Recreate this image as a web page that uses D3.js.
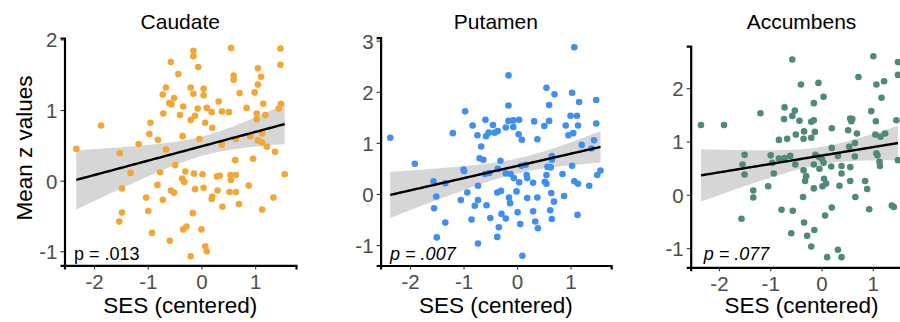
<!DOCTYPE html>
<html>
<head>
<meta charset="utf-8">
<script src="https://cdn.jsdelivr.net/npm/d3@7"></script>
<style>
  body { margin: 0; background: #fff; }
  svg { display: block; font-family: "Liberation Sans", Arial, Helvetica, sans-serif; }
</style>
</head>
<body>
<svg id="chart" width="900" height="322"></svg>
<script>
// ---- data ----
const regions = ["Caudate", "Putamen", "Accumbens"];
const pLabels = ["p = .013", "p = .007", "p = .077"];
const xTicks = [-2, -1, 0, 1];
const yTicks = [[-1, 0, 1, 2], [-1, 0, 1, 2, 3], [-1, 0, 1, 2]];
const xDomain = [-2.55, 1.76];
const yDomains = [[-1.2, 2.02], [-1.4, 3.06], [-1.36, 2.79]];

const caudateSES = [-2.33,-1.87,-1.52,-1.17,-0.97,-0.95,-0.81,-0.66,-0.71,-0.72,-0.66,-0.60,-0.56,-0.51,-0.57,-0.43,-0.40,-0.34,-0.35,-0.20,-0.15,-0.15,-0.15,-0.06,-0.20,-0.12,-0.07,-0.04,0.04,0.04,0.07,0.10,0.19,0.20,0.32,0.38,0.51,0.38,0.55,0.60,0.60,0.71,0.64,0.84,0.91,0.99,1.05,1.11,1.05,1.03,1.03,1.15,1.19,1.13,1.05,1.13,1.22,1.37,1.47,1.47,1.48,1.44,
  0.63,0.96,1.55,-0.49,-1.32,-0.77,-0.30,-0.14,0.02,-0.36,-0.32,0.29,0.34,0.54,0.64,0.55,-0.82,-1.48,-0.57,-0.51,-0.12,0.04,0.30,0.20,0.19,0.52,0.64,0.88,0.70,0.39,1.34,1.13,-1.03,-0.72,-0.99,-1.48,-1.53,-0.16,-0.92,-0.59,-0.34,-0.28,0.00,0.07,0.10,-0.20];
const caudateZ = [0.45,0.78,0.39,0.52,0.66,0.82,0.58,0.44,0.95,1.22,1.32,1.10,1.08,1.17,1.68,1.51,0.93,1.05,0.63,1.32,1.23,1.84,1.76,1.61,0.86,0.92,1.02,0.59,1.30,1.21,0.82,1.03,0.97,0.75,1.12,0.98,0.97,0.51,1.88,1.49,1.43,1.24,0.59,1.03,0.63,1.25,1.36,1.47,1.59,0.95,0.87,1.09,0.93,0.67,0.57,0.54,0.48,0.41,1.87,1.64,1.09,1.02,
  0.29,0.31,0.09,0.22,0.11,0.12,0.13,0.10,0.09,0.03,-0.02,0.06,0.07,0.08,0.08,0.01,-0.06,-0.11,-0.14,-0.17,-0.12,-0.10,-0.14,-0.23,-0.26,-0.16,-0.16,-0.07,-0.33,-0.37,-0.24,-0.41,-0.24,-0.27,-0.43,-0.45,-0.58,-0.46,-0.74,-0.85,-0.69,-0.65,-0.69,-0.93,-1.00,-1.07];

const putamenSES = [-2.37,-1.20,-0.97,-0.83,-0.74,-0.67,-0.59,-0.58,-0.53,-0.45,-0.42,-0.36,-0.21,-0.16,-0.07,-0.07,0.04,-0.16,-0.16,0.03,0.09,0.32,0.38,0.51,0.60,0.60,0.55,0.70,0.91,1.00,1.12,1.03,1.16,1.07,1.14,0.96,1.05,1.48,1.48,1.44,1.21,1.39,
  -1.91,-1.56,-1.34,-1.51,-1.55,-1.34,-1.50,-1.00,-0.99,-0.93,-1.05,-0.73,-0.70,-0.63,-0.79,-0.73,-0.85,-0.73,-0.60,-0.52,-0.57,-0.50,-0.36,-0.31,-0.37,-0.30,-0.29,-0.21,-0.34,-0.37,-0.21,-0.12,-0.15,-0.13,-0.06,-0.01,0.01,0.06,0.10,0.04,0.08,0.16,0.18,0.19,0.19,0.30,0.30,0.34,0.39,0.38,0.52,0.55,0.55,0.57,0.63,0.65,0.65,0.64,0.69,0.62,0.65,0.85,0.88,1.03,1.07,1.14,1.13,1.35,1.50,1.56];
const putamenZ = [1.10,1.19,1.62,1.34,1.15,0.93,1.45,1.13,1.20,1.35,1.20,1.23,1.30,1.43,1.44,1.31,1.45,1.73,2.32,1.17,1.06,1.42,1.07,1.33,1.43,1.74,2.08,1.95,1.34,1.53,1.53,1.98,1.80,2.87,1.34,1.15,1.19,1.84,1.38,1.05,0.96,0.89,
  0.59,0.25,0.21,-0.05,-0.28,-0.56,-0.85,0.48,0.45,0.03,-0.12,0.16,0.70,0.67,-0.23,-0.12,-0.50,-0.97,0.39,0.41,-0.22,-0.47,0.49,0.65,0.03,0.06,-0.39,-0.48,-0.65,-0.84,0.40,0.39,-0.07,-0.18,0.31,0.05,-0.36,-0.59,-1.21,0.23,0.55,0.57,0.37,0.31,-0.08,0.22,-0.34,-0.54,-0.67,-0.07,0.24,0.20,0.37,0.53,0.52,0.74,0.67,0.02,-0.15,-0.32,-0.49,0.39,-0.04,0.55,0.25,0.20,-0.41,0.16,0.37,0.46];

const accumbensSES = [-2.35,-1.90,-1.19,-0.57,-0.72,-0.52,-0.57,-0.73,-0.43,-0.83,-0.67,-0.50,-0.34,-0.35,-0.20,-0.13,-0.20,-0.15,-0.15,0.04,-0.40,-0.06,0.20,0.52,0.56,0.60,0.58,0.69,0.72,1.01,1.07,1.22,1.17,0.97,1.06,1.05,1.15,1.24,1.46,1.49,1.49,0.20,0.54,0.65,1.07,
  -1.50,-1.54,-1.50,-0.99,-0.96,-0.93,-0.83,-0.72,-0.61,-0.51,-0.35,-0.30,-0.32,-0.15,-0.12,-0.05,0.01,0.04,-0.04,0.05,0.09,0.02,-0.15,-0.36,0.19,0.32,0.39,0.39,0.35,0.56,0.56,0.65,0.66,0.85,0.89,0.93,1.09,1.13,1.14,1.37,1.41,1.49,-1.33,-1.33,-1.04,-0.78,-0.56,-1.56,0.07,0.20,-0.34,-0.59,-0.28,-0.14,-0.20,0.11,0.32,0.39];
const accumbensZ = [1.31,1.31,1.53,2.54,1.64,1.58,1.48,1.42,1.39,1.03,1.05,1.13,1.19,1.05,1.07,1.18,1.37,1.40,1.72,1.84,2.07,2.10,1.25,1.21,1.43,1.42,1.38,1.15,2.21,2.60,2.07,2.13,1.82,1.57,1.38,1.13,1.09,1.15,1.40,2.49,2.25,0.88,0.90,0.97,0.78,
  0.75,0.57,0.38,0.74,0.60,0.40,0.68,0.69,0.73,0.57,0.46,0.35,0.26,0.57,0.75,0.71,0.67,0.60,0.49,0.30,0.21,0.16,0.12,-0.04,0.53,0.73,0.54,0.40,0.17,0.52,0.26,0.72,-0.04,0.26,0.11,-0.27,0.74,0.62,0.54,-0.20,-0.23,0.65,0.08,-0.05,0.16,-0.28,-0.30,-0.45,-0.39,-0.24,-0.52,-0.72,-0.77,-0.66,-0.97,-1.17,-1.03,-1.17];

// ---- layout ----
const colors = ["#F4A534", "#3F8EF3", "#4E8A74"];
const frames = [
  { left: 64.5, right: 296,   top: 38,   bottom: 265.4 },
  { left: 380.6, right: 611.2, top: 37.6, bottom: 265.5 },
  { left: 690.7, right: 911.8, top: 46.1, bottom: 267.3 }
];
const seriesX = [caudateSES, putamenSES, accumbensSES];
const seriesY = [caudateZ, putamenZ, accumbensZ];

const svg = d3.select("#chart");
svg.append("rect").attr("width", 900).attr("height", 322).attr("fill", "#fff");

// simple lm fit with 95% CI (what geom_smooth(method = "lm") draws)
function lmFit(xs, ys) {
  const n = xs.length;
  const mx = d3.mean(xs), my = d3.mean(ys);
  let sxx = 0, sxy = 0;
  xs.forEach((x, i) => { sxx += (x - mx) ** 2; sxy += (x - mx) * (ys[i] - my); });
  const b = sxy / sxx, a = my - b * mx;
  let sse = 0;
  xs.forEach((x, i) => { sse += (ys[i] - a - b * x) ** 2; });
  const s = Math.sqrt(sse / (n - 2));
  const t = 1.984;
  const [lo, hi] = d3.extent(xs);
  return d3.range(81).map(k => {
    const x = lo + (hi - lo) * k / 80;
    const se = s * Math.sqrt(1 / n + (x - mx) ** 2 / sxx);
    const fit = a + b * x;
    return { x, fit, lower: fit - t * se, upper: fit + t * se };
  });
}

regions.forEach((name, i) => {
  const f = frames[i];
  const x = d3.scaleLinear().domain(xDomain).range([f.left, f.right]);
  const y = d3.scaleLinear().domain(yDomains[i]).range([f.bottom, f.top]);
  const g = svg.append("g");

  const fit = lmFit(seriesX[i], seriesY[i]);

  // confidence band
  g.append("path")
    .datum(fit)
    .attr("fill", "#d6d6d6")
    .attr("d", d3.area().x(d => x(d.x)).y0(d => y(d.lower)).y1(d => y(d.upper)));

  // points
  g.selectAll("circle")
    .data(seriesX[i].map((v, k) => [v, seriesY[i][k]]))
    .enter()
    .append("circle")
    .attr("cx", d => x(d[0]))
    .attr("cy", d => y(d[1]))
    .attr("r", 3.3)
    .attr("fill", colors[i]);

  // fit line
  g.append("path")
    .datum(fit)
    .attr("fill", "none")
    .attr("stroke", "#000")
    .attr("stroke-width", 2.4)
    .attr("d", d3.line().x(d => x(d.x)).y(d => y(d.fit)));

  // axes
  const xAxis = g.append("g")
    .attr("transform", `translate(0,${f.bottom})`)
    .call(d3.axisBottom(x).tickValues(xTicks).tickSize(4).tickPadding(5).tickFormat(d3.format("d")));
  const yAxis = g.append("g")
    .attr("transform", `translate(${f.left},0)`)
    .call(d3.axisLeft(y).tickValues(yTicks[i]).tickSize(4).tickPadding(3).tickFormat(d3.format("d")));

  [xAxis, yAxis].forEach(ax => {
    ax.select(".domain").attr("stroke", "#000").attr("stroke-width", 2.2);
    ax.selectAll(".tick line").attr("stroke", "#333").attr("stroke-width", 1.1);
    ax.selectAll(".tick text")
      .attr("fill", "#4d4d4d")
      .style("font-size", "20.5px")
      .style("font-family", "'Liberation Sans', Arial, sans-serif")
      .text(d => d < 0 ? "-" + Math.abs(d) : d);
  });
  xAxis.selectAll(".tick text").attr("dy", "0.72em");
  yAxis.selectAll(".tick text").attr("dy", "0.36em");

  const cx = (f.left + f.right) / 2;
  const cxVisible = i === 2 ? 801.5 : cx;

  // title
  svg.append("text")
    .attr("x", cxVisible).attr("y", 29)
    .attr("text-anchor", "middle")
    .style("font-size", "21px")
    .attr("fill", "#000")
    .text(name);

  // x axis title
  svg.append("text")
    .attr("x", cxVisible).attr("y", 313)
    .attr("text-anchor", "middle")
    .style("font-size", "22.5px")
    .attr("fill", "#000")
    .text("SES (centered)");

  // p value
  svg.append("text")
    .attr("x", f.left + (i === 2 ? 13 : 9.5)).attr("y", 260)
    .style("font-size", "18px")
    .style("font-style", i === 0 ? "normal" : "italic")
    .attr("fill", "#000")
    .text(pLabels[i]);
});

// y axis title (first panel only)
svg.append("text")
  .attr("transform", "translate(31.5,148) rotate(-90)")
  .attr("text-anchor", "middle")
  .style("font-size", "22.5px")
  .attr("fill", "#000")
  .text("Mean z values");
</script>
</body>
</html>
